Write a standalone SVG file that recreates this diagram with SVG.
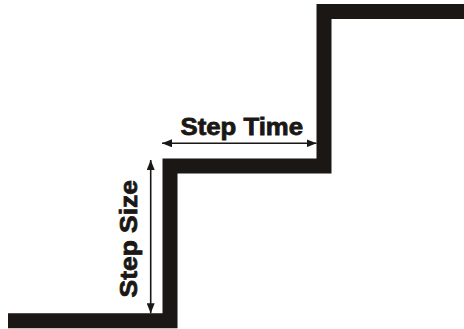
<svg xmlns="http://www.w3.org/2000/svg" width="464" height="329" viewBox="0 0 464 329">
<style>
.stair{fill:none;stroke:#1a1714;stroke-width:15;stroke-linejoin:miter}
.dim{stroke:#1a1714;stroke-width:1.6;fill:none}
.lbl{font-family:"Liberation Sans",Arial,sans-serif;font-weight:bold;font-size:24px;fill:#1a1714;stroke:#1a1714;stroke-width:0.8}
</style>
<defs>
<marker id="ah" viewBox="0 0 10 8" refX="10" refY="4" markerWidth="10" markerHeight="8" markerUnits="userSpaceOnUse" orient="auto-start-reverse">
<path d="M0,0 L10,4 L0,8 Z" fill="#1a1714"/>
</marker>
</defs>
<rect width="464" height="329" fill="#fff"/>
<g id="stairs">
<path class="stair" d="M8 320.8 H170 V166 H324 V11.5 H464"/>
</g>
<g id="connectors">
<line class="dim" x1="162" y1="143.3" x2="316.5" y2="143.3" marker-start="url(#ah)" marker-end="url(#ah)"/>
<line class="dim" x1="150.7" y1="160" x2="150.7" y2="313.3" marker-start="url(#ah)" marker-end="url(#ah)"/>
</g>
<g id="step-time">
<text class="lbl" x="180.5" y="135" textLength="122.5" lengthAdjust="spacingAndGlyphs">Step Time</text>
</g>
<g id="step-size">
<text class="lbl" transform="translate(137,297.5) rotate(-90)" x="0" y="0" textLength="117.5" lengthAdjust="spacingAndGlyphs">Step Size</text>
</g>
</svg>
